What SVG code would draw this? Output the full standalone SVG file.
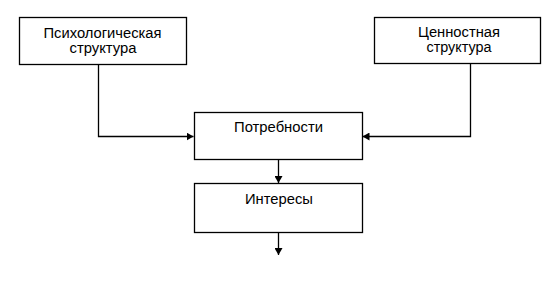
<svg xmlns="http://www.w3.org/2000/svg" width="551" height="286" viewBox="0 0 551 286">
<style>
.box{fill:#fff;stroke:#000;stroke-width:1.3}
.t{font-family:"Liberation Sans",Arial,sans-serif;font-size:14px;fill:#000;text-anchor:middle}
.c{fill:none;stroke:#000;stroke-width:1.3}
</style>
<defs>
<marker id="ah" markerWidth="8" markerHeight="8" refX="7" refY="4" orient="auto" markerUnits="userSpaceOnUse">
<path d="M0,0 L7,4 L0,8 Z" fill="#000"/>
</marker>
</defs>
<rect width="551" height="286" fill="#fff"/>
<g id="connectors">
<polyline class="c" points="98.5,65 98.5,136.5 193.5,136.5" marker-end="url(#ah)"/>
<polyline class="c" points="470.5,64 470.5,136.5 362.5,136.5" marker-end="url(#ah)"/>
<line class="c" x1="278.5" y1="159" x2="278.5" y2="183" marker-end="url(#ah)"/>
<line class="c" x1="278.5" y1="232" x2="278.5" y2="255" marker-end="url(#ah)"/>
</g>
<g id="psych">
<rect class="box" x="19.5" y="17.5" width="167" height="47"/>
<text class="t" x="102.5" y="37.5" textLength="118" lengthAdjust="spacingAndGlyphs">Психологическая</text>
<text class="t" x="103" y="52.5" textLength="67" lengthAdjust="spacingAndGlyphs">структура</text>
</g>
<g id="value">
<rect class="box" x="374.5" y="17.5" width="166" height="46"/>
<text class="t" x="459" y="37" textLength="82" lengthAdjust="spacingAndGlyphs">Ценностная</text>
<text class="t" x="459" y="52" textLength="65" lengthAdjust="spacingAndGlyphs">структура</text>
</g>
<g id="needs">
<rect class="box" x="194.5" y="112.5" width="168" height="47"/>
<text class="t" x="278.5" y="132" textLength="89" lengthAdjust="spacingAndGlyphs">Потребности</text>
</g>
<g id="interests">
<rect class="box" x="194.5" y="183.5" width="168" height="49"/>
<text class="t" x="279" y="203.5" textLength="68" lengthAdjust="spacingAndGlyphs">Интересы</text>
</g>
</svg>
